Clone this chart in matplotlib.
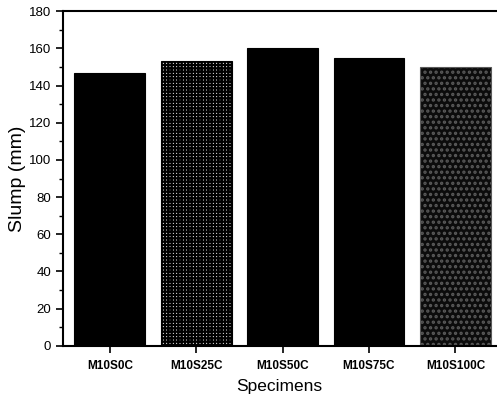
import matplotlib.pyplot as plt
from matplotlib.ticker import MultipleLocator

plt.rcParams['font.family'] = ['Liberation Sans', 'DejaVu Sans']
plt.rcParams['hatch.linewidth'] = 1.6

specimens = ["M10S0C", "M10S25C", "M10S50C", "M10S75C", "M10S100C"]
slump = [147, 153, 160, 155, 150]

# fill styles per bar: (facecolor, hatch, hatch colour)
faces = ["black", "white", "black", "black", "#0c0c0c"]
hatches = [None, "+++++", None, None, "..."]
hatch_cols = ["black", "black", "black", "black", "#5a5a5a"]

fig = plt.figure(figsize=(4.97, 3.98), dpi=100)
ax = fig.add_axes([0.127, 0.131, 0.871, 0.841])

x = range(len(specimens))
for i, (v, fc, h, hc) in enumerate(zip(slump, faces, hatches, hatch_cols)):
    ax.bar(i, v, width=0.82, color=fc, hatch=h, edgecolor=hc, linewidth=0.8)

ax.set_xlim(-0.54, 4.47)
ax.set_ylim(0, 180)
ax.set_xticks(list(x))
ax.set_xticklabels(specimens, fontsize=8.5, fontweight='bold')
ax.yaxis.set_major_locator(MultipleLocator(20))
ax.yaxis.set_minor_locator(MultipleLocator(10))
ax.tick_params(axis='y', labelsize=9.5, width=1.2, length=5)
ax.tick_params(axis='y', which='minor', length=3, width=1)
ax.tick_params(axis='x', length=5, width=1.2, pad=5)
for s in ['left', 'bottom', 'top']:
    ax.spines[s].set_linewidth(1.5)
ax.spines['right'].set_visible(False)

ax.set_ylabel('Slump (mm)', fontsize=14, labelpad=2)
ax.set_xlabel('Specimens', fontsize=12.5, labelpad=5)

fig.savefig('out.png', dpi=100)
